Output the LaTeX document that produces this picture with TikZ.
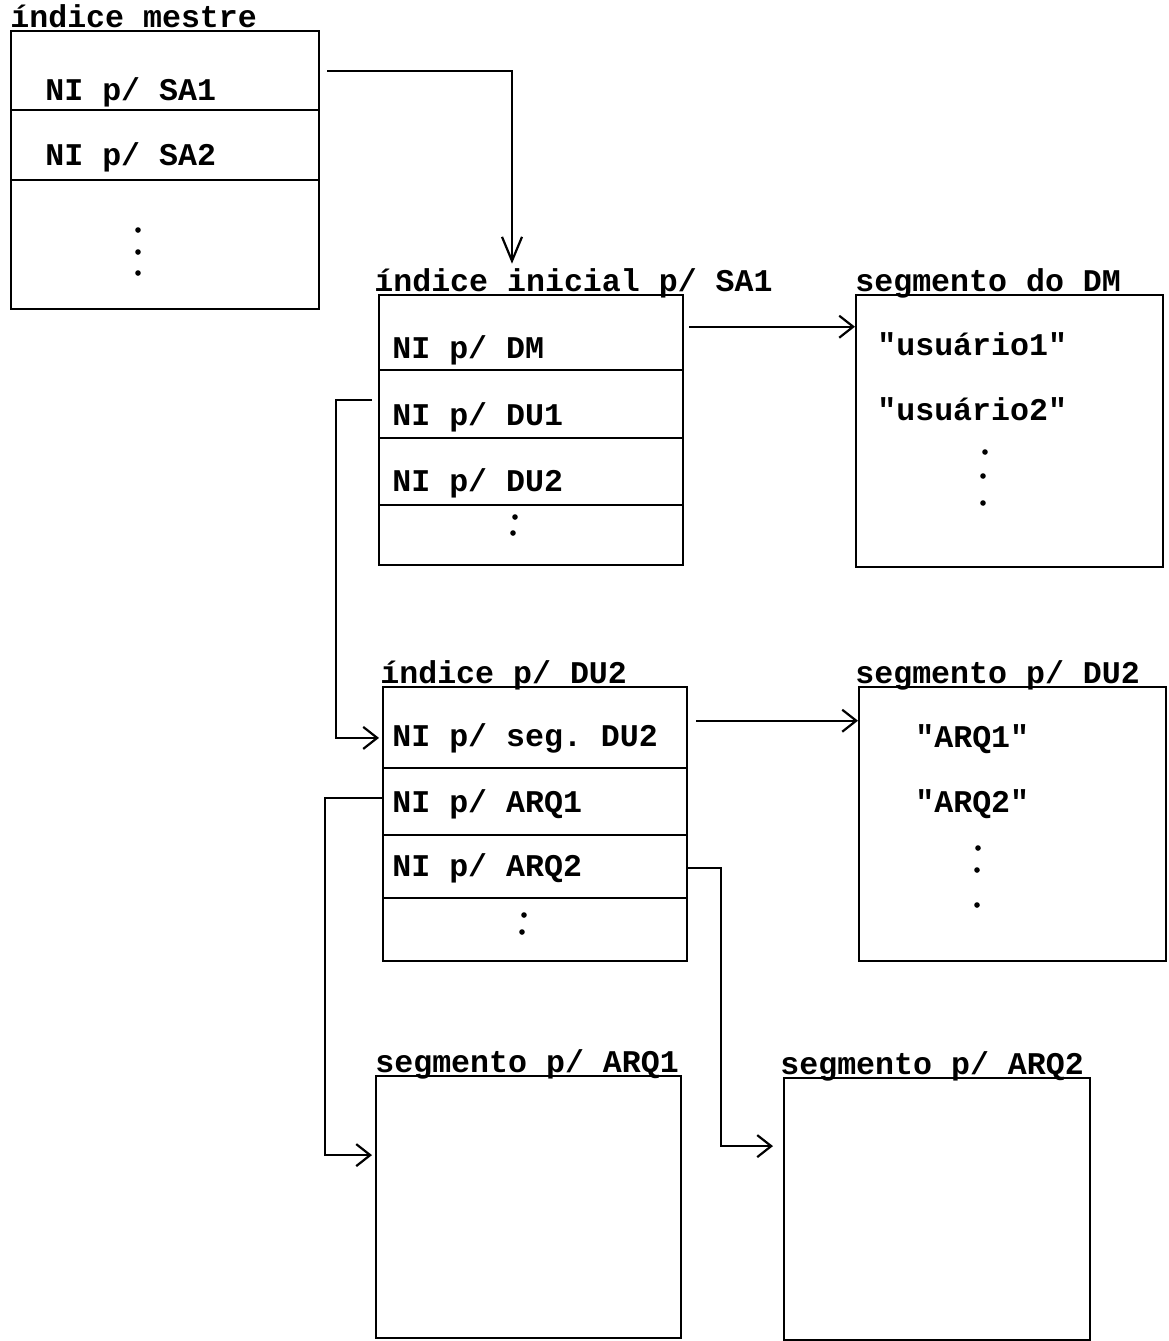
\documentclass[tikz,border=0pt]{standalone}
\usepackage{fontspec}
\setmonofont{Liberation Mono}
\usetikzlibrary{positioning,arrows.meta}

\newcommand\maquina{\ttfamily\bfseries\fontsize{15.8pt}{18pt}\selectfont}

\tikzset{
  caixa/.style={draw,line width=1.1pt,anchor=north west,inner sep=0pt},
  titulo/.style={anchor=base west,inner sep=0pt,font=\maquina},
  campo/.style={anchor=base west,inner sep=0pt,font=\maquina},
  divisa/.style={line width=0.9pt},
  liga/.style={line width=1.1pt,-{Straight Barb[length=7pt,width=11pt]}},
}

\begin{document}
\begin{tikzpicture}[x=0.5pt,y=-0.5pt]
\useasboundingbox (0,0) rectangle (1169,1341);

% indice mestre
\node[caixa,minimum width=154pt,minimum height=139pt] (mestre) at (10,30) {};
\node[titulo] (tmestre) at ([yshift=1.5pt]mestre.north west) {índice mestre};
\node[campo] (sa1) at (45,100) {NI p/ SA1};
\node[campo] (sa2) at (45,165) {NI p/ SA2};
\draw[divisa] (mestre.west |- 0,110) -- (mestre.east |- 0,110);
\draw[divisa] (mestre.west |- 0,180) -- (mestre.east |- 0,180);
\fill (138,230) circle (1.4pt) (138,252) circle (1.4pt) (138,273) circle (1.4pt);

% indice inicial p/ SA1
\node[caixa,minimum width=152pt,minimum height=135pt] (inicial) at (378,294) {};
\node[titulo] (tinicial) at ([xshift=-2pt,yshift=1.5pt]inicial.north west) {índice inicial p/ SA1};
\node[campo] (dm) at (392,358) {NI p/ DM};
\node[campo] (du1) at (392,425) {NI p/ DU1};
\node[campo] (du2) at (392,491) {NI p/ DU2};
\draw[divisa] (inicial.west |- 0,370) -- (inicial.east |- 0,370);
\draw[divisa] (inicial.west |- 0,438) -- (inicial.east |- 0,438);
\draw[divisa] (inicial.west |- 0,505) -- (inicial.east |- 0,505);
\fill (515,517) circle (1.4pt) (513,533) circle (1.4pt);

% segmento do DM
\node[caixa,minimum width=153.5pt,minimum height=136pt] (segdm) at (855,294) {};
\node[titulo] (tsegdm) at ([yshift=1.5pt]segdm.north west) {segmento do DM};
\node[campo] (usu1) at (877,355) {"usuário1"};
\node[campo] (usu2) at (877,420) {"usuário2"};
\fill (985,452) circle (1.4pt) (983,476) circle (1.4pt) (983,503) circle (1.4pt);

% indice p/ DU2
\node[caixa,minimum width=152pt,minimum height=137pt] (indu2) at (382,686) {};
\node[titulo] (tindu2) at ([xshift=-1pt,yshift=1.5pt]indu2.north west) {índice p/ DU2};
\node[campo] (sdu2) at (392,746) {NI p/ seg. DU2};
\node[campo] (arq1) at (392,812) {NI p/ ARQ1};
\node[campo] (arq2) at (392,876) {NI p/ ARQ2};
\draw[divisa] (indu2.west |- 0,768) -- (indu2.east |- 0,768);
\draw[divisa] (indu2.west |- 0,835) -- (indu2.east |- 0,835);
\draw[divisa] (indu2.west |- 0,898) -- (indu2.east |- 0,898);
\fill (524,915) circle (1.4pt) (522,932) circle (1.4pt);

% segmento p/ DU2
\node[caixa,minimum width=153.5pt,minimum height=137pt] (segdu2) at (858,686) {};
\node[titulo] (tsegdu2) at ([xshift=-1.5pt,yshift=1.5pt]segdu2.north west) {segmento p/ DU2};
\node[campo] (nome1) at (915,747) {"ARQ1"};
\node[campo] (nome2) at (915,812) {"ARQ2"};
\fill (978,848) circle (1.4pt) (977,870) circle (1.4pt) (977,905) circle (1.4pt);

% segmentos dos arquivos
\node[caixa,minimum width=152.5pt,minimum height=131pt] (segarq1) at (375,1075) {};
\node[titulo] (tsegarq1) at ([yshift=1.5pt]segarq1.north west) {segmento p/ ARQ1};
\node[caixa,minimum width=153pt,minimum height=131pt] (segarq2) at (783,1077) {};
\node[titulo] (tsegarq2) at ([xshift=-1.5pt,yshift=1.5pt]segarq2.north west) {segmento p/ ARQ2};

% ligacoes
\draw[liga,-{Straight Barb[length=12pt,width=10pt]},shorten <=3.5pt]
  ([yshift=3pt]sa1.north -| mestre.east) -| ([yshift=2pt]tinicial.north -| 512,0);
\draw[liga,shorten <=2.5pt] ([yshift=4pt]dm.north -| inicial.east) -- ([yshift=4pt]dm.north -| segdm.west);
\draw[liga,shorten <=3pt,shorten >=1.5pt] ([yshift=1pt]du1.north -| inicial.west) -- ++(-42,0) |- (sdu2.west -| indu2.west);
\draw[liga,shorten <=4pt] ([yshift=1pt]sdu2.north -| indu2.east) -- ([yshift=1pt]sdu2.north -| segdu2.west);
\draw[liga,shorten >=1.5pt] ([yshift=3pt]arq1.west -| indu2.west) -- ++(-57,0) |- ([yshift=26pt]segarq1.west);
\draw[liga,shorten >=5pt] (arq2.west -| indu2.east) -- ++(33,0) |- ([yshift=31.5pt]segarq2.west);
\end{tikzpicture}
\end{document}
